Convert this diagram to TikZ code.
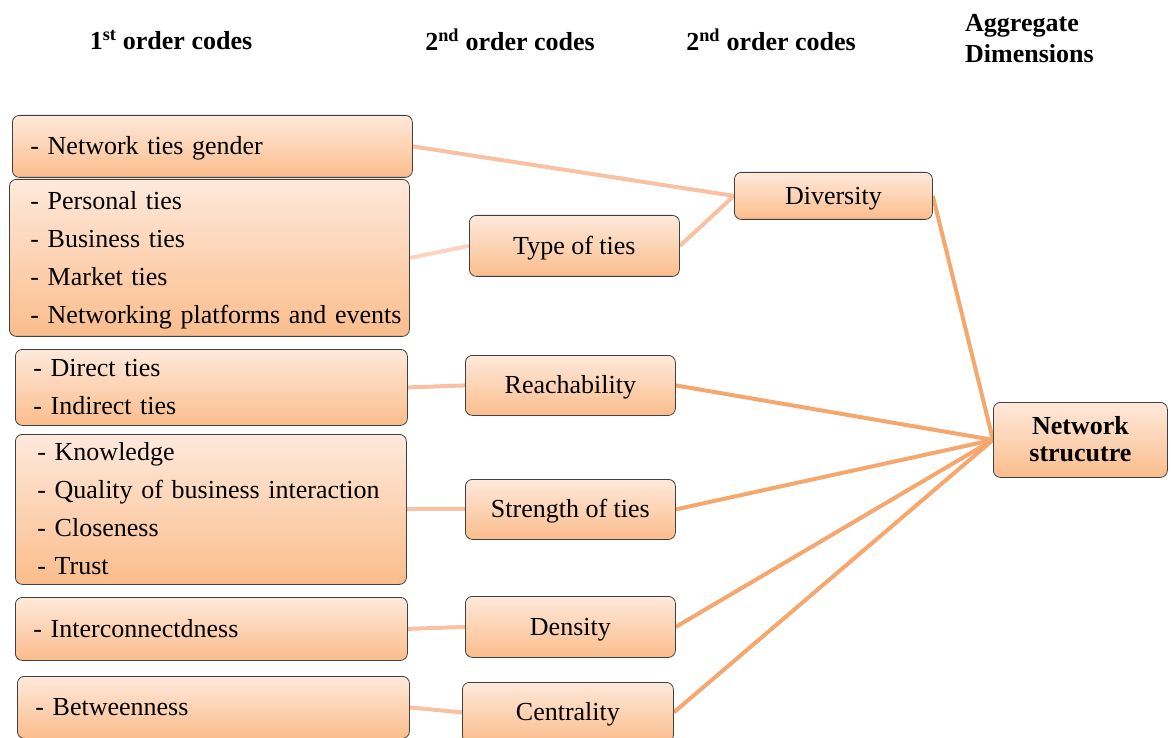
\documentclass[tikz,border=0pt]{standalone}
\usepackage{fontspec}
\setmainfont{Liberation Serif}
\usetikzlibrary{backgrounds}
\definecolor{boxtop}{HTML}{FEE9DB}
\definecolor{boxbot}{HTML}{FBBD8C}
\definecolor{linklight}{HTML}{F9C1A2}
\definecolor{linkpale}{HTML}{FBD3C0}
\definecolor{linkdark}{HTML}{F6A76D}
\tikzset{
  codebox/.style={draw=black!75, line width=0.8pt, rounded corners=7pt,
    top color=boxtop, bottom color=boxbot, inner sep=0pt,
    text height=22pt, text depth=5pt,
    font=\fontsize{26}{38}\selectfont},
  twolines/.style={text depth=43pt},
  fourlines/.style={text depth=119pt},
  % left-aligned list box; the argument is the indent of its lines
  firstbox/.style={codebox, anchor=north west, align=left,
    execute at begin node={\leftskip=#1}},
  midbox/.style={codebox, anchor=north west, align=center},
  header/.style={font=\fontsize{26}{31}\selectfont\bfseries, inner sep=0pt},
  lightlink/.style={linklight, line width=4pt},
  palelink/.style={linkpale, line width=4pt},
  darklink/.style={linkdark, line width=4pt},
}
\begin{document}
\begin{tikzpicture}[x=1pt, y=-1pt]
\useasboundingbox (0,0) rectangle (1171,738);

% column headers
\node[header] (h1) at (171,40) {1\textsuperscript{st} order codes};
\node[header] (h2) at (510,40) {2\textsuperscript{nd} order codes};
\node[header] (h3) at (771,40) {2\textsuperscript{nd} order codes};
\node[header, anchor=west, align=left] (h4) at (965,39) {Aggregate\\Dimensions};

% first order codes
\node[firstbox=16pt, minimum width=400pt, minimum height=62pt, text width=396pt] (a1) at (12,115) {- Network ties gender};
\node[firstbox=19pt, fourlines, minimum width=400pt, minimum height=157pt, text width=396pt] (a2) at (9,179)
  {- Personal ties\\- Business ties\\- Market ties\\- Networking platforms and events};
\node[firstbox=16pt, twolines, minimum width=392pt, minimum height=76pt, text width=388pt] (a3) at (15,349)
  {- Direct ties\\- Indirect ties};
\node[firstbox=20pt, fourlines, minimum width=391pt, minimum height=150pt, text width=387pt] (a4) at (15,434)
  {- Knowledge\\- Quality of business interaction\\- Closeness\\- Trust};
\node[firstbox=16pt, minimum width=392pt, minimum height=63pt, text width=388pt] (a5) at (15,597)
  {- Interconnectdness};
\node[firstbox=16pt, minimum width=392pt, minimum height=62pt, text width=388pt] (a6) at (17,676)
  {- Betweenness};

% second order codes
\node[midbox, minimum width=210pt, minimum height=61pt] (type) at (469,215) {Type of ties};
\node[midbox, minimum width=210pt, minimum height=60pt] (reach) at (465,355) {Reachability};
\node[midbox, minimum width=210pt, minimum height=60pt] (strength) at (465,479) {Strength of ties};
\node[midbox, minimum width=210pt, minimum height=61pt] (density) at (465,596) {Density};
\node[midbox, minimum width=211pt, minimum height=60pt] (central) at (462,682) {Centrality};
\node[midbox, minimum width=198pt, minimum height=47pt] (div) at (734,172) {Diversity};

% aggregate dimension
\node[midbox, minimum width=174pt, minimum height=75pt, text height=49pt, text depth=6pt,
  font=\fontsize{26}{27}\selectfont\bfseries] (ns) at (993,402) {Network\\strucutre};

\begin{scope}[on background layer]
  \draw[lightlink] (a1.east) -- (div.west);
  \draw[palelink] (a2.east) -- (type.west);
  \draw[lightlink] (type.east) -- (div.west);
  \draw[lightlink] (a3.east) -- (reach.west);
  \draw[lightlink] (a4.east) -- (strength.west);
  \draw[lightlink] (a5.east) -- (density.west);
  \draw[lightlink] (a6.east) -- (central.west);
  \draw[darklink] (div.east) -- (ns.west);
  \draw[darklink] (reach.east) -- (ns.west);
  \draw[darklink] (strength.east) -- (ns.west);
  \draw[darklink] (density.east) -- (ns.west);
  \draw[darklink] (central.east) -- (ns.west);
\end{scope}
\end{tikzpicture}
\end{document}
